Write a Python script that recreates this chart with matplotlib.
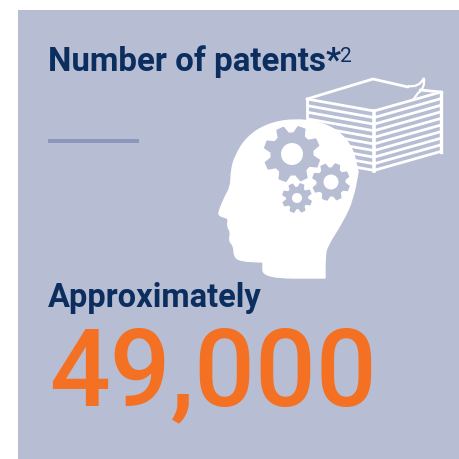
import numpy as np
import matplotlib
matplotlib.use('Agg')
import matplotlib.pyplot as plt
from matplotlib.patches import Polygon, Rectangle, Circle, PathPatch
from matplotlib.path import Path

#text and colours
title = 'Number of patents'
star = '*'
note = '2'
label = 'Approximately'
value = '49,000'
BG = '#b7bdd3'
NAVY = '#0b2e5f'
ORANGE = '#f47022'
RULE = '#8a98bb'
WHITE = '#ffffff'

#(x, y, outer radius, root radius, hole radius, teeth)
gears = [(292, 155, 28, 21, 11, 8), (331, 183, 18.5, 14, 7.5, 8), (297, 199, 14.5, 10.5, 5, 8)]

#outline of the head
head_x = [263, 263, 325, 325, 325, 327, 343, 353, 358, 358, 353, 340, 320, 293, 267, 247, 235, 231, 231, 225, 219, 219, 229, 227, 231, 229, 234, 234, 240, 263, 263]
head_y = [263, 279, 279, 279, 257, 247, 222, 200, 173, 173, 150, 133, 123, 120, 125, 138, 157, 173, 187, 198, 212, 217, 219, 227, 233, 242, 247, 257, 262, 263, 263]

def smooth_path(xs, ys):
    #quadratic curves through the midpoints, repeated points keep the corners
    pts = np.c_[xs, ys].astype(float)
    mids = (pts[:-1] + pts[1:]) / 2
    verts = [mids[0]]
    codes = [Path.MOVETO]
    for i in range(1, len(mids)):
        verts += [pts[i], mids[i]]
        codes += [Path.CURVE3, Path.CURVE3]
    verts.append(mids[0])
    codes.append(Path.LINETO)
    return Path(verts, codes)

fig = plt.figure(figsize=(4.6, 4.6), dpi=100)
ax = fig.add_axes([0, 0, 1, 1])
ax.set_xlim(0, 460)
ax.set_ylim(460, 0)
ax.axis('off')

ax.add_patch(Rectangle((18, 11), 442, 449, color=BG, lw=0))
ax.add_patch(Rectangle((48, 140), 91, 4, color=RULE, lw=0))

#stack of paper
ax.plot([307, 373, 408], [100, 80, 88], color=WHITE, lw=2, solid_capstyle='round')
ax.plot([307, 374, 441], [100, 112, 93], color=WHITE, lw=2, solid_capstyle='round')
ax.plot([420, 441], [91, 93], color=WHITE, lw=2, solid_capstyle='round')
for i in range(1, 10):
    d = i * 6.6
    ax.plot([374, 441], [112 + d, 93 + d], color=WHITE, lw=2, solid_capstyle='butt')
    ax.plot([307, 374], [100 + d, 112 + d], color=WHITE, lw=2, solid_capstyle='butt')
ax.plot([307, 307], [100, 130], color=WHITE, lw=2)
ax.plot([441, 441], [93, 153], color=WHITE, lw=2.4)
ax.plot([374, 374], [112, 172], color=WHITE, lw=2.6)
curl = Path([(408, 87), (419, 89), (424, 79), (425, 90), (418, 94), (413, 101)],
            [Path.MOVETO, Path.CURVE3, Path.CURVE3, Path.CURVE3, Path.CURVE3, Path.LINETO])
ax.add_patch(PathPatch(curl, fc='none', ec=WHITE, lw=1.6))

#head and gears
ax.add_patch(PathPatch(smooth_path(head_x, head_y), fc=WHITE, ec=WHITE, lw=1, zorder=3))
for gx, gy, ro, rr, rh, n in gears:
    ang = np.linspace(0, 2 * np.pi, n * 4, endpoint=False) + 0.25
    rad = np.tile([ro, ro, rr, rr], n)
    ang = ang + np.tile([-0.03, 0.03, -0.03, 0.03], n)
    ax.add_patch(Polygon(np.c_[gx + rad * np.cos(ang), gy + rad * np.sin(ang)], closed=True, fc=BG, ec=BG, lw=1, joinstyle='round', zorder=4))
    ax.add_patch(Circle((gx, gy), rh, color=WHITE, lw=0, zorder=5))

ax.text(48, 71, title, family='Roboto', weight='bold', fontsize=23.8, color=NAVY, va='baseline', ha='left')
ax.text(326, 71, star, family='Roboto', weight='bold', fontsize=23.8, color=NAVY, va='baseline', ha='left')
ax.text(340, 62, note, family='Roboto', weight='normal', fontsize=15, color=NAVY, va='baseline', ha='left')
ax.text(48, 307, label, family='Roboto', weight='bold', fontsize=23.5, color=NAVY, va='baseline', ha='left')
ax.text(49, 405, value, family='Roboto', weight='medium', fontsize=77, color=ORANGE, va='baseline', ha='left')

fig.savefig('out.png', dpi=100)
